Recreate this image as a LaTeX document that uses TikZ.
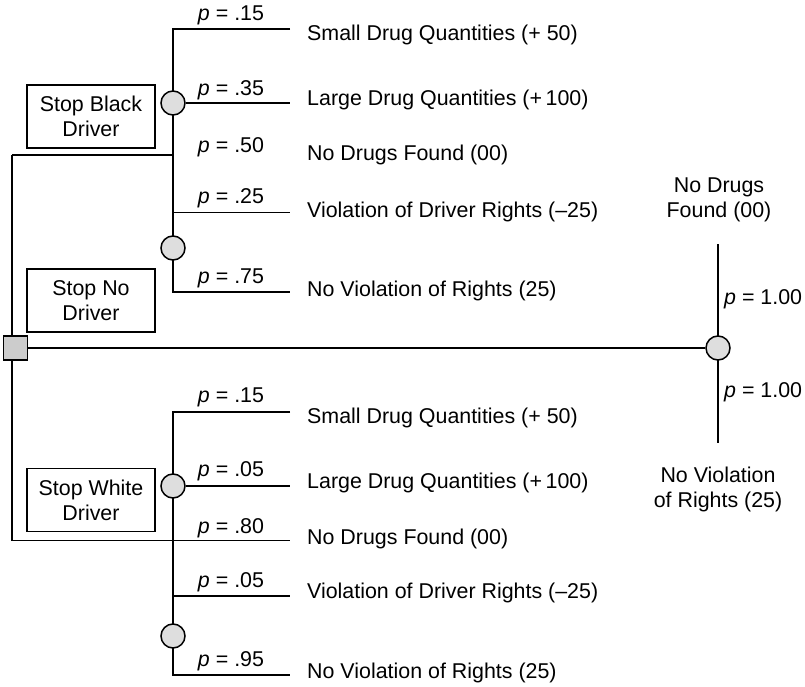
\documentclass[tikz,border=0pt]{standalone}
\usepackage{fontspec}
\setmainfont{Liberation Sans}
\begin{document}
\begin{tikzpicture}[x=1pt,y=-1pt,
  every node/.style={font=\fontsize{21.4}{25}\selectfont},
  ln/.style={line width=1.5pt},
  chance/.style={circle,draw,line width=1.5pt,fill=black!13,minimum size=24pt,inner sep=0pt},
  dec/.style={rectangle,draw,line width=1.5pt,fill=black!20,minimum size=24pt,inner sep=0pt},
  lbox/.style={rectangle,draw,line width=1.4pt,minimum width=128pt,minimum height=63pt,align=center,inner sep=0pt},
  outc/.style={anchor=west,inner sep=0pt,text height=15pt,text depth=4.5pt},
  prob/.style={inner sep=0pt,text height=15pt,text depth=4.5pt},
  rlab/.style={align=center,inner sep=0pt}]
\useasboundingbox (0,0) rectangle (805,687);

% trunk coordinates
\coordinate (tt) at (12,155);
\coordinate (tb) at (12,540.7);

% top chance nodes
\coordinate (a0) at (173,29);
\coordinate (a2) at (173,155);
\coordinate (a3) at (173,212.7);
\coordinate (a4) at (173,292);
\coordinate (a0e) at (290,29);
\coordinate (a1e) at (290,103);
\coordinate (a3e) at (290,212.7);
\coordinate (a4e) at (290,292);

% bottom chance nodes
\coordinate (b0) at (173,412);
\coordinate (b2) at (173,540.7);
\coordinate (b3) at (173,596);
\coordinate (b4) at (173,675);
\coordinate (b0e) at (290,412);
\coordinate (b1e) at (290,486);
\coordinate (b2e) at (290,540.7);
\coordinate (b3e) at (290,596);
\coordinate (b4e) at (290,675);

% right node ends
\coordinate (rt) at (718,244);
\coordinate (rb) at (718,443);

% lines drawn first
\draw[ln] (tt) -- (tb);
\draw[ln] (tt) -- (a2);
\draw[ln] (tb) -- (b2e);
\draw[ln] (a0e) -- (a0) -- (a4) -- (a4e);
\draw[ln] (a3) -- (a3e);
\draw[ln] (b0e) -- (b0) -- (b4) -- (b4e);
\draw[ln] (b3) -- (b3e);
\draw[ln] (rt) -- (rb);

% nodes
\node[chance] (c1) at (173,103) {};
\node[chance] (c2) at (173,248) {};
\node[chance] (c3) at (173,486) {};
\node[chance] (c4) at (173,636) {};
\node[chance] (c5) at (718,348) {};
\node[dec] (d) at (15.5,348) {};

\draw[ln] (c1) -- (a1e);
\draw[ln] (c3) -- (b1e);
\draw[ln] (d) -- (c5);

% boxes
\node[lbox] (sb) at (91,116.5) {Stop Black\\Driver};
\node[lbox] (sn) at (91,300.5) {Stop No\\Driver};
\node[lbox] (sw) at (91,500) {Stop White\\Driver};

% probabilities (top)
\node[prob] (p1) at (231,15) {\textit{p} = .15};
\node[prob] (p2) at (231,90) {\textit{p} = .35};
\node[prob] (p3) at (231,147) {\textit{p} = .50};
\node[prob] (p4) at (231,198) {\textit{p} = .25};
\node[prob] (p5) at (231,278) {\textit{p} = .75};
% probabilities (bottom)
\node[prob] (q1) at (231,397) {\textit{p} = .15};
\node[prob] (q2) at (231,471) {\textit{p} = .05};
\node[prob] (q3) at (231,528) {\textit{p} = .80};
\node[prob] (q4) at (231,582) {\textit{p} = .05};
\node[prob] (q5) at (231,661) {\textit{p} = .95};

% outcomes (top)
\node[outc] (o1) at (307,35) {Small Drug Quantities (+ 50)};
\node[outc] (o2) at (307,100) {Large Drug Quantities (+\,100)};
\node[outc] (o3) at (307,155) {No Drugs Found (00)};
\node[outc] (o4) at (307,212) {Violation of Driver Rights (–25)};
\node[outc] (o5) at (307,291) {No Violation of Rights (25)};
% outcomes (bottom)
\node[outc] (u1) at (307,418) {Small Drug Quantities (+ 50)};
\node[outc] (u2) at (307,483) {Large Drug Quantities (+\,100)};
\node[outc] (u3) at (307,539) {No Drugs Found (00)};
\node[outc] (u4) at (307,593) {Violation of Driver Rights (–25)};
\node[outc] (u5) at (307,673) {No Violation of Rights (25)};

% right side
\node[rlab] (r1) at (719,200) {No Drugs\\Found (00)};
\node[rlab] (r2) at (718,489.5) {No Violation\\of Rights (25)};
\node[outc] (r3) at (724,299) {\textit{p} = 1.00};
\node[outc] (r4) at (724,392) {\textit{p} = 1.00};
\end{tikzpicture}
\end{document}
